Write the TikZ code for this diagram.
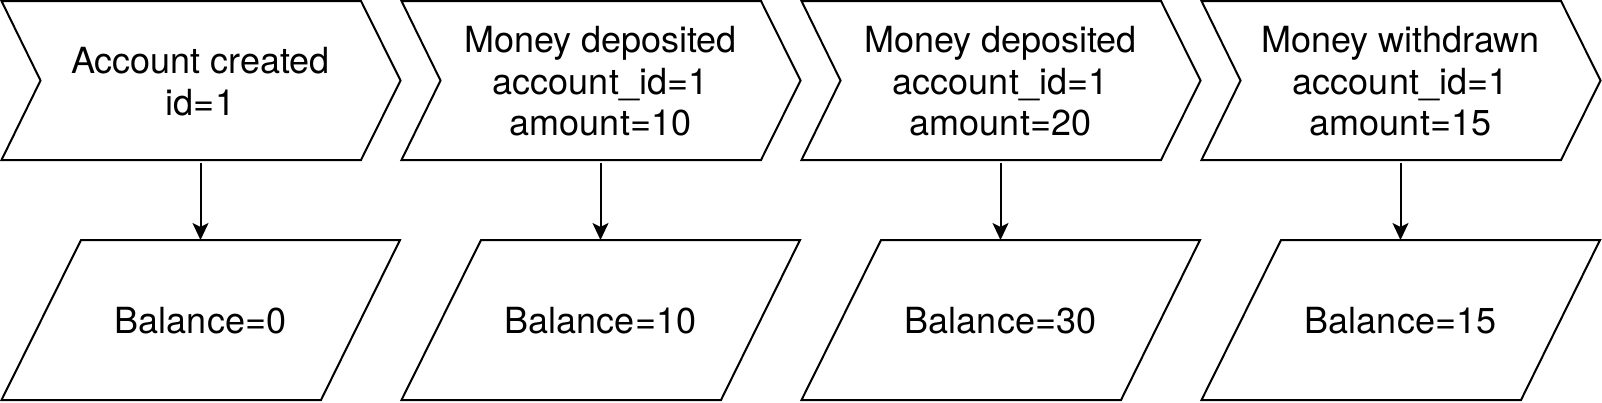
\documentclass[tikz,border=0pt]{standalone}
\usepackage{fontspec}
\setmainfont{TeX Gyre Heros}
\usetikzlibrary{arrows.meta}
\begin{document}
\begin{tikzpicture}[x=1pt,y=-1pt,line width=2pt,
  evtext/.style={inner sep=0pt,minimum width=320pt,minimum height=160pt,align=center,font=\fontsize{36}{41.5}\selectfont},
  baltext/.style={inner sep=0pt,minimum width=320pt,minimum height=160pt,align=center,font=\fontsize{36}{42}\selectfont},
  flow/.style={-{Stealth[length=17pt,width=16pt,inset=4pt]},line width=2pt}]
\useasboundingbox (0,0) rectangle (1602,402);
\foreach \i in {0,1,2,3}{
  \pgfmathsetmacro{\L}{1.5+400*\i}
  \draw[line join=miter] (\L,1) -- (\L+359.5,1) -- (\L+399,80.5) -- (\L+359.5,160) -- (\L,160) -- (\L+39,80.5) -- cycle;
  \draw[line join=miter] (\L+79.5,240) -- (\L+398.5,240) -- (\L+319.5,400) -- (\L,400) -- cycle;
}
\node[evtext] (e1) at (200.5,81.5) {Account created\\id=1};
\node[evtext] (e2) at (600.5,81.5) {Money deposited\\account\_id=1\\amount=10};
\node[evtext] (e3) at (1000.5,81.5) {Money deposited\\account\_id=1\\amount=20};
\node[evtext] (e4) at (1400.5,81.5) {Money withdrawn\\account\_id=1\\amount=15};
\node[baltext] (b1) at (200.5,321) {Balance=0};
\node[baltext] (b2) at (600.5,321) {Balance=10};
\node[baltext] (b3) at (1000.5,321) {Balance=30};
\node[baltext] (b4) at (1400.5,321) {Balance=15};
\foreach \k in {1,2,3,4}{
  \draw[flow] (e\k.south) -- (b\k.north);
}
\end{tikzpicture}
\end{document}
